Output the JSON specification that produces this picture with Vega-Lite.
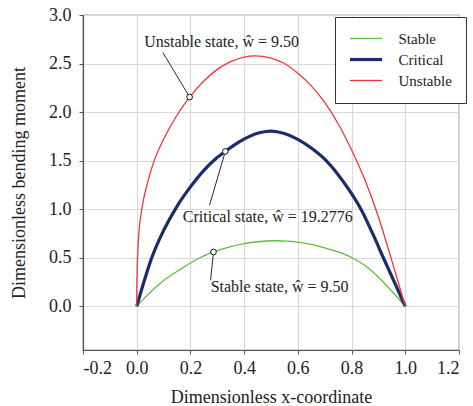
{
  "$schema": "https://vega.github.io/schema/vega-lite/v6.json",
  "width": 376,
  "height": 335,
  "autosize": {"type": "none"},
  "padding": {"left": 83, "top": 15, "right": 14, "bottom": 56},
  "background": "white",
  "config": {
    "font": "Liberation Serif",
    "view": {"stroke": "#555", "strokeWidth": 1.2},
    "axis": {
      "labelFont": "Liberation Serif", "titleFont": "Liberation Serif",
      "labelFontSize": 18, "titleFontSize": 18, "titleFontWeight": "normal",
      "labelColor": "#222", "titleColor": "#222",
      "domainColor": "#555", "domainWidth": 1.2, "tickColor": "#555", "tickSize": 4,
      "gridColor": "#d9d9d9", "gridWidth": 1.2
    }
  },
  "datasets": {
    "curves": [
      {"x": 0, "y": 0, "series": "Stable"},
      {"x": 0.04, "y": 0.115, "series": "Stable"},
      {"x": 0.097, "y": 0.258, "series": "Stable"},
      {"x": 0.159, "y": 0.375, "series": "Stable"},
      {"x": 0.228, "y": 0.49, "series": "Stable"},
      {"x": 0.286, "y": 0.56, "series": "Stable"},
      {"x": 0.35, "y": 0.615, "series": "Stable"},
      {"x": 0.4, "y": 0.645, "series": "Stable"},
      {"x": 0.45, "y": 0.665, "series": "Stable"},
      {"x": 0.51, "y": 0.675, "series": "Stable"},
      {"x": 0.56, "y": 0.671, "series": "Stable"},
      {"x": 0.607, "y": 0.658, "series": "Stable"},
      {"x": 0.65, "y": 0.638, "series": "Stable"},
      {"x": 0.7, "y": 0.603, "series": "Stable"},
      {"x": 0.75, "y": 0.56, "series": "Stable"},
      {"x": 0.8, "y": 0.503, "series": "Stable"},
      {"x": 0.85, "y": 0.42, "series": "Stable"},
      {"x": 0.9, "y": 0.3, "series": "Stable"},
      {"x": 0.95, "y": 0.155, "series": "Stable"},
      {"x": 1, "y": 0, "series": "Stable"},
      {"x": 0, "y": 0, "series": "Critical"},
      {"x": 0.025, "y": 0.235, "series": "Critical"},
      {"x": 0.056, "y": 0.5, "series": "Critical"},
      {"x": 0.1, "y": 0.78, "series": "Critical"},
      {"x": 0.15, "y": 1.03, "series": "Critical"},
      {"x": 0.2, "y": 1.23, "series": "Critical"},
      {"x": 0.25, "y": 1.4, "series": "Critical"},
      {"x": 0.29, "y": 1.51, "series": "Critical"},
      {"x": 0.33, "y": 1.595, "series": "Critical"},
      {"x": 0.38, "y": 1.69, "series": "Critical"},
      {"x": 0.42, "y": 1.75, "series": "Critical"},
      {"x": 0.46, "y": 1.79, "series": "Critical"},
      {"x": 0.5, "y": 1.805, "series": "Critical"},
      {"x": 0.55, "y": 1.78, "series": "Critical"},
      {"x": 0.6, "y": 1.72, "series": "Critical"},
      {"x": 0.65, "y": 1.63, "series": "Critical"},
      {"x": 0.7, "y": 1.515, "series": "Critical"},
      {"x": 0.75, "y": 1.355, "series": "Critical"},
      {"x": 0.8, "y": 1.16, "series": "Critical"},
      {"x": 0.835, "y": 1.0, "series": "Critical"},
      {"x": 0.88, "y": 0.74, "series": "Critical"},
      {"x": 0.92, "y": 0.49, "series": "Critical"},
      {"x": 0.96, "y": 0.245, "series": "Critical"},
      {"x": 1, "y": 0, "series": "Critical"},
      {"x": 0, "y": 0, "series": "Unstable"},
      {"x": 0.0003, "y": 0.15, "series": "Unstable"},
      {"x": 0.001, "y": 0.3, "series": "Unstable"},
      {"x": 0.003, "y": 0.5, "series": "Unstable"},
      {"x": 0.008, "y": 0.75, "series": "Unstable"},
      {"x": 0.019, "y": 1.0, "series": "Unstable"},
      {"x": 0.04, "y": 1.27, "series": "Unstable"},
      {"x": 0.065, "y": 1.5, "series": "Unstable"},
      {"x": 0.1, "y": 1.72, "series": "Unstable"},
      {"x": 0.148, "y": 1.96, "series": "Unstable"},
      {"x": 0.197, "y": 2.155, "series": "Unstable"},
      {"x": 0.25, "y": 2.32, "series": "Unstable"},
      {"x": 0.3, "y": 2.44, "series": "Unstable"},
      {"x": 0.35, "y": 2.52, "series": "Unstable"},
      {"x": 0.4, "y": 2.567, "series": "Unstable"},
      {"x": 0.44, "y": 2.58, "series": "Unstable"},
      {"x": 0.5, "y": 2.555, "series": "Unstable"},
      {"x": 0.55, "y": 2.5, "series": "Unstable"},
      {"x": 0.6, "y": 2.4, "series": "Unstable"},
      {"x": 0.65, "y": 2.27, "series": "Unstable"},
      {"x": 0.7, "y": 2.1, "series": "Unstable"},
      {"x": 0.75, "y": 1.88, "series": "Unstable"},
      {"x": 0.8, "y": 1.61, "series": "Unstable"},
      {"x": 0.85, "y": 1.3, "series": "Unstable"},
      {"x": 0.9, "y": 0.92, "series": "Unstable"},
      {"x": 0.95, "y": 0.47, "series": "Unstable"},
      {"x": 1, "y": 0, "series": "Unstable"}
    ],
    "notes": [
      {"label": "Unstable state, ŵ = 9.50", "tx": 0.316, "ty": 2.72, "px": 0.197, "py": 2.155, "lx": 0.097, "ly": 2.615},
      {"label": "Critical state, ŵ = 19.2776", "tx": 0.488, "ty": 0.918, "px": 0.33, "py": 1.595, "lx": 0.271, "ly": 1.04},
      {"label": "Stable state, ŵ = 9.50", "tx": 0.532, "ty": 0.196, "px": 0.286, "py": 0.56, "lx": 0.275, "ly": 0.268}
    ]
  },
  "layer": [
    {
      "data": {"name": "curves"},
      "mark": {"type": "line", "interpolate": "monotone", "clip": true},
      "encoding": {
        "x": {"field": "x", "type": "quantitative",
          "scale": {"domain": [-0.2, 1.2], "nice": false, "zero": false},
          "axis": {"values": [-0.2, 0, 0.2, 0.4, 0.6, 0.8, 1.0, 1.2], "format": ".1f", "labelExpr": "replace(datum.label, '−', '-')", "title": "Dimensionless x-coordinate", "labelPadding": 5, "titleBaseline": "middle", "titleY": 47}},
        "y": {"field": "y", "type": "quantitative",
          "scale": {"domain": [-0.45, 3.0], "nice": false, "zero": false},
          "axis": {"values": [0, 0.5, 1.0, 1.5, 2.0, 2.5, 3.0], "format": ".1f", "title": "Dimensionless bending moment", "labelPadding": 8, "titleBaseline": "middle", "titleX": -64}},
        "color": {"field": "series", "type": "nominal",
          "scale": {"domain": ["Stable", "Critical", "Unstable"], "range": ["#5dbd3f", "#1c2b6b", "#f5333a"]},
          "legend": {"title": null, "orient": "none", "legendX": 252, "legendY": 2,
            "symbolType": "M-2.13,0H2.13", "symbolSize": 225, "symbolOffset": 9.5, "labelOffset": 25,
            "labelFontSize": 15, "labelFont": "Liberation Serif", "labelColor": "#222",
            "strokeColor": "#333", "fillColor": "white", "padding": 14, "rowPadding": 5, "cornerRadius": 0,
            "encode": {"symbols": {"update": {"strokeWidth": {"signal": "datum.value === 'Critical' ? 3.2 : 1.3"}, "fill": {"value": "transparent"}}}}}},
        "strokeWidth": {"condition": {"test": "datum.series === 'Critical'", "value": 3.2}, "value": 1.3}
      }
    },
    {
      "data": {"name": "notes"},
      "mark": {"type": "rule", "color": "#111", "strokeWidth": 0.9},
      "encoding": {
        "x": {"field": "px", "type": "quantitative"},
        "y": {"field": "py", "type": "quantitative"},
        "x2": {"field": "lx"},
        "y2": {"field": "ly"}
      }
    },
    {
      "data": {"name": "notes"},
      "mark": {"type": "point", "shape": "circle", "filled": true, "fill": "white", "stroke": "#111", "strokeWidth": 1, "size": 32, "opacity": 1},
      "encoding": {
        "x": {"field": "px", "type": "quantitative"},
        "y": {"field": "py", "type": "quantitative"}
      }
    },
    {
      "data": {"name": "notes"},
      "mark": {"type": "text", "font": "Liberation Serif", "fontSize": 16, "color": "#222", "align": "center", "baseline": "middle"},
      "encoding": {
        "x": {"field": "tx", "type": "quantitative"},
        "y": {"field": "ty", "type": "quantitative"},
        "text": {"field": "label"}
      }
    }
  ]
}
